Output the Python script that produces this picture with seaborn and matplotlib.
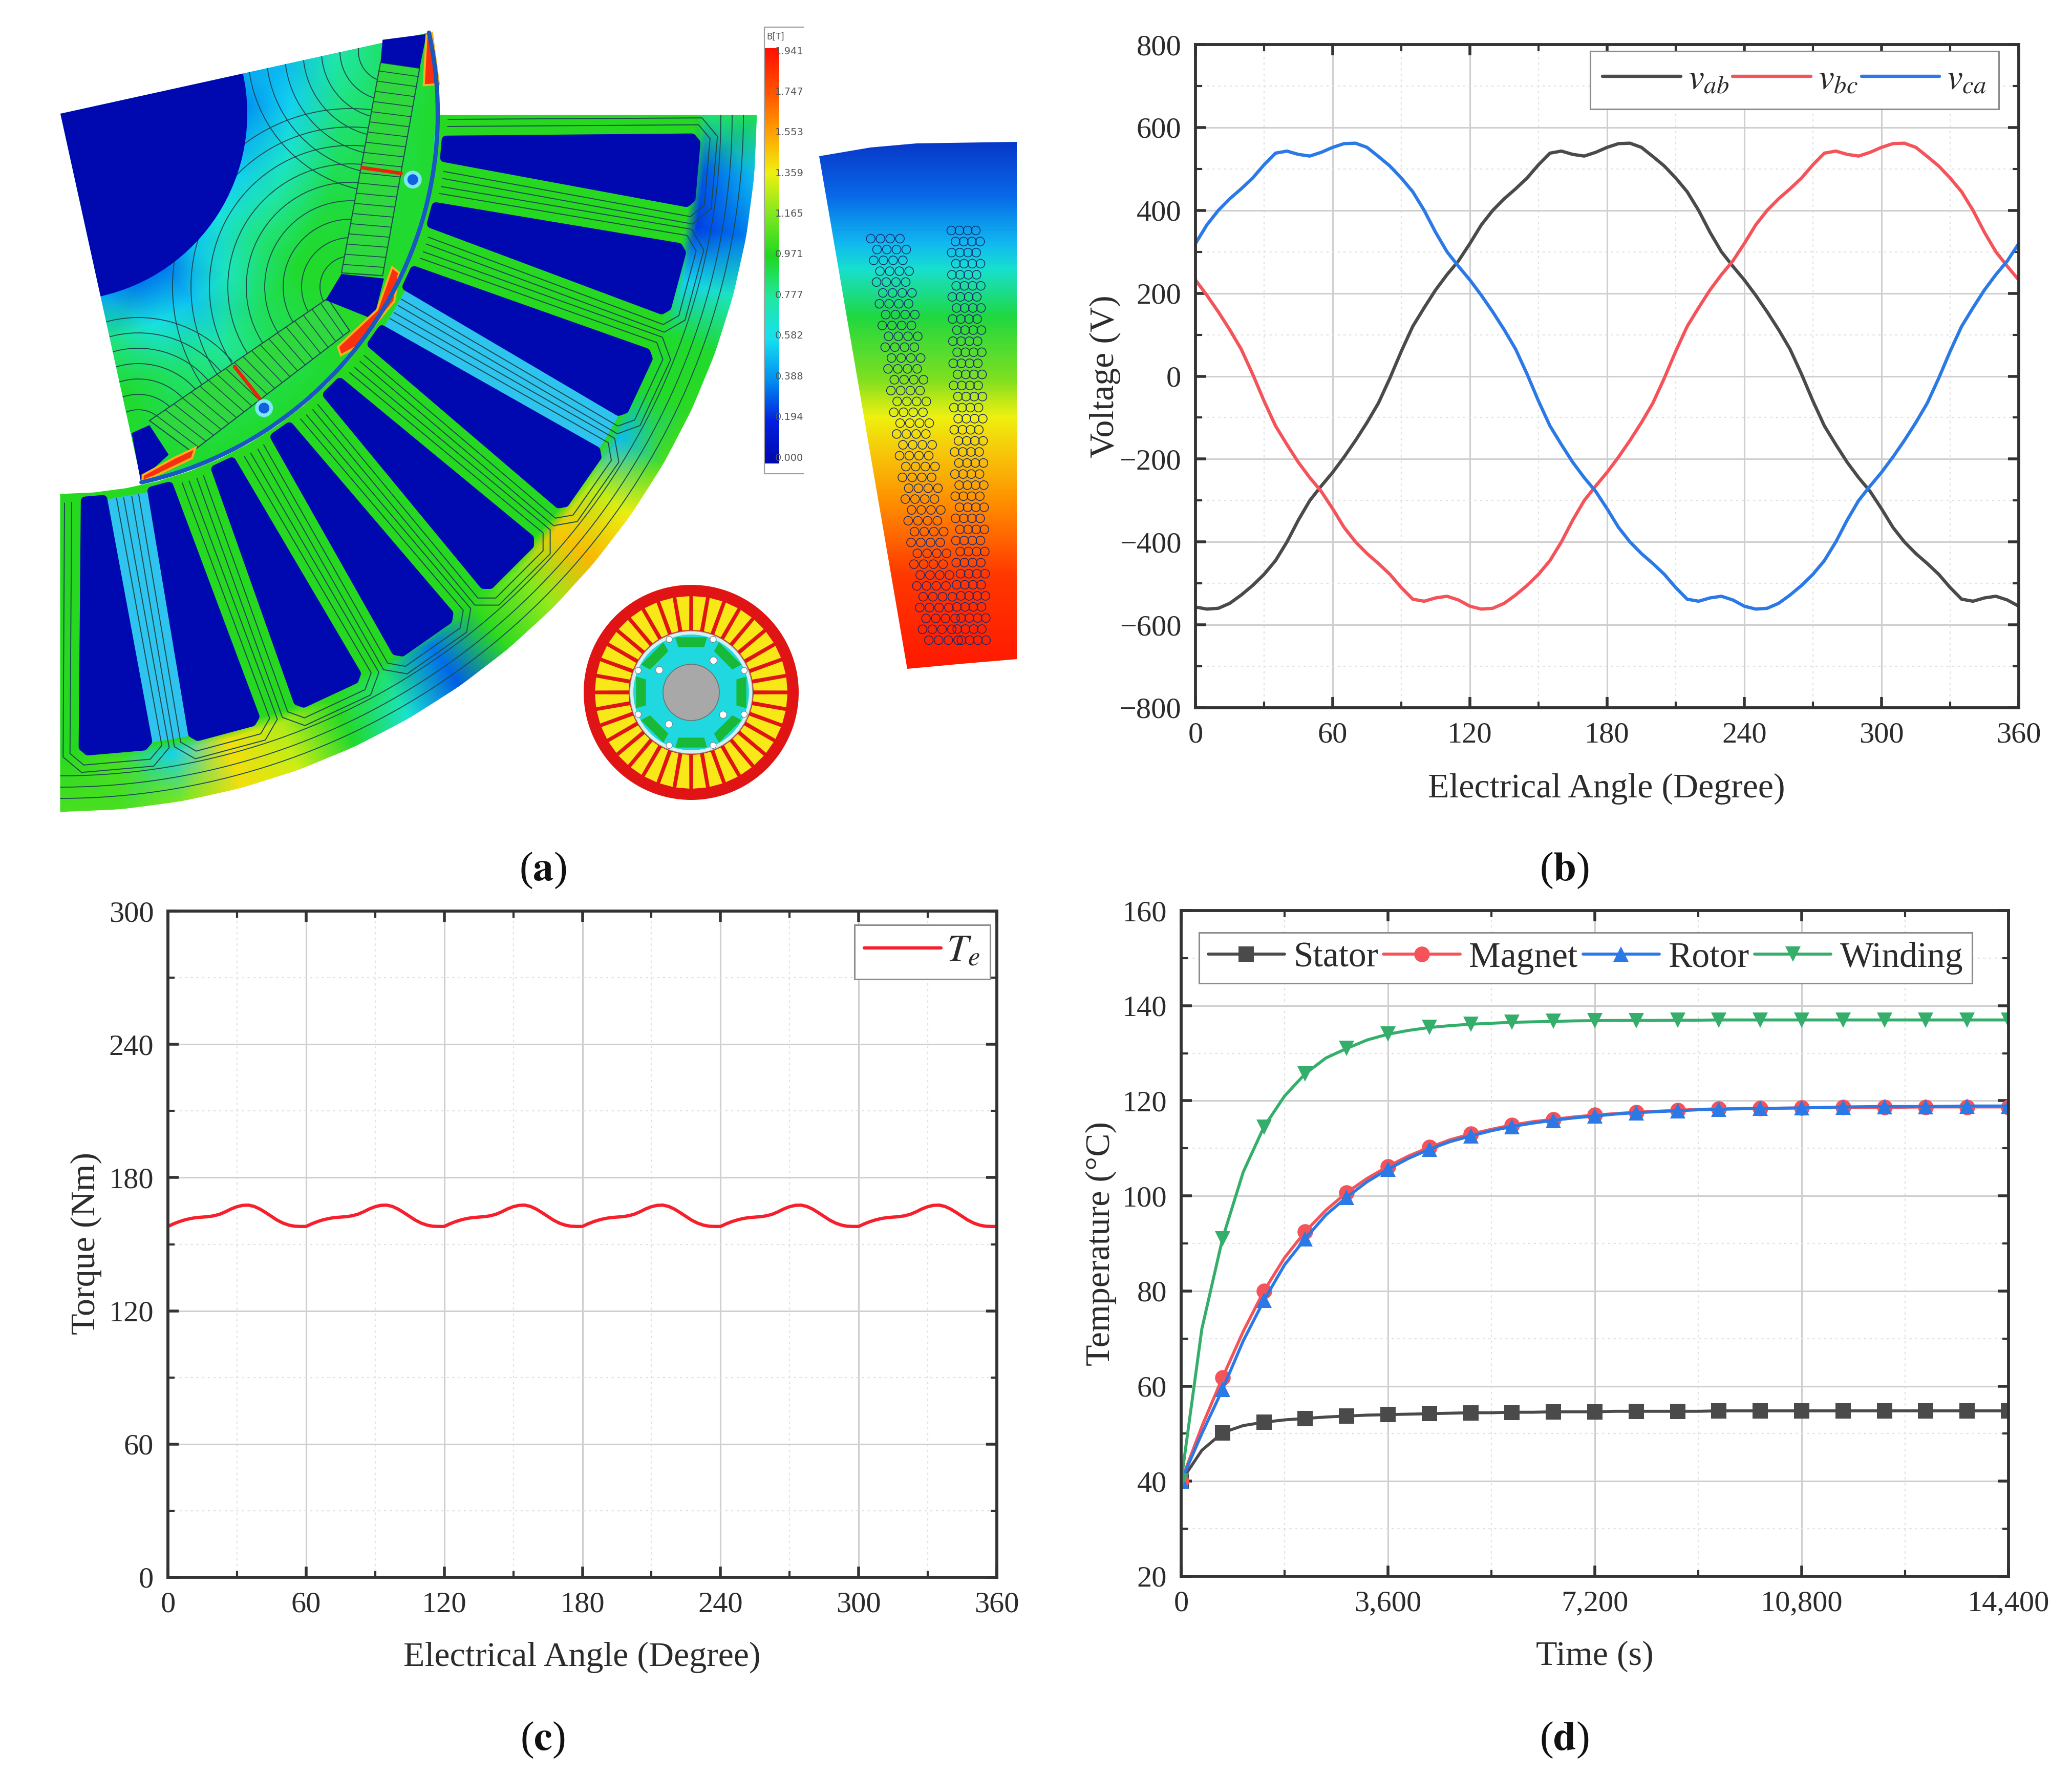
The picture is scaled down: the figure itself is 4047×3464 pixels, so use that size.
import numpy as np
import pandas as pd
import matplotlib
matplotlib.use('Agg')
import matplotlib.pyplot as plt
import seaborn as sns
from matplotlib.colors import LinearSegmentedColormap
from matplotlib.patches import Wedge, Polygon, Circle, Arc

W, H = 4048, 3464

# ---- panel b : line voltages, every 5 degrees
angle_deg = list(range(0, 365, 5))
v_ab = [-557, -562, -560, -548, -528, -505, -478, -445, -400, -347, -300, -265, -232, -195, -155, -112, -65, -5,
        60, 120, 165, 208, 245, 278, 320, 365, 400, 428, 452, 478, 510, 538, 543, 535, 531, 540,
        552, 561, 562, 552, 530, 507, 478, 445, 400, 347, 300, 265, 232, 195, 155, 112, 65, 5,
        -60, -120, -165, -208, -245, -278, -320, -365, -400, -428, -452, -478, -510, -538, -543, -535, -531, -540, -555]
v_bc = [232, 195, 155, 112, 65, 5, -60, -120, -165, -208, -245, -278, -320, -365, -400, -428, -452, -478,
        -510, -538, -543, -535, -531, -540, -555, -562, -560, -548, -528, -505, -478, -445, -400, -347, -300, -265,
        -232, -195, -155, -112, -65, -5, 60, 120, 165, 208, 245, 278, 320, 365, 400, 428, 452, 478,
        510, 538, 543, 535, 531, 540, 552, 561, 562, 552, 530, 507, 478, 445, 400, 347, 300, 265, 232]
v_ca = [320, 365, 400, 428, 452, 478, 510, 538, 543, 535, 531, 540, 552, 561, 562, 552, 530, 507,
        478, 445, 400, 347, 300, 265, 232, 195, 155, 112, 65, 5, -60, -120, -165, -208, -245, -278,
        -320, -365, -400, -428, -452, -478, -510, -538, -543, -535, -531, -540, -555, -562, -560, -548, -528, -505,
        -478, -445, -400, -347, -300, -265, -232, -195, -155, -112, -65, -5, 60, 120, 165, 208, 245, 278, 320]

# ---- panel c : torque, every 2.5 degrees
torque_angle = [i * 2.5 for i in range(145)]
torque = [158.0, 159.2, 160.2, 161.0, 161.6, 162.0, 162.2, 162.4, 162.8, 163.5, 164.6, 165.9, 166.9, 167.5, 167.6, 167.0, 165.8, 164.2, 162.5, 160.8, 159.5, 158.6, 158.1, 158.0,
          158.0, 159.2, 160.2, 161.0, 161.6, 162.0, 162.2, 162.4, 162.8, 163.5, 164.6, 165.9, 166.9, 167.5, 167.6, 167.0, 165.8, 164.2, 162.5, 160.8, 159.5, 158.6, 158.1, 158.0,
          158.0, 159.2, 160.2, 161.0, 161.6, 162.0, 162.2, 162.4, 162.8, 163.5, 164.6, 165.9, 166.9, 167.5, 167.6, 167.0, 165.8, 164.2, 162.5, 160.8, 159.5, 158.6, 158.1, 158.0,
          158.0, 159.2, 160.2, 161.0, 161.6, 162.0, 162.2, 162.4, 162.8, 163.5, 164.6, 165.9, 166.9, 167.5, 167.6, 167.0, 165.8, 164.2, 162.5, 160.8, 159.5, 158.6, 158.1, 158.0,
          158.0, 159.2, 160.2, 161.0, 161.6, 162.0, 162.2, 162.4, 162.8, 163.5, 164.6, 165.9, 166.9, 167.5, 167.6, 167.0, 165.8, 164.2, 162.5, 160.8, 159.5, 158.6, 158.1, 158.0,
          158.0, 159.2, 160.2, 161.0, 161.6, 162.0, 162.2, 162.4, 162.8, 163.5, 164.6, 165.9, 166.9, 167.5, 167.6, 167.0, 165.8, 164.2, 162.5, 160.8, 159.5, 158.6, 158.1, 158.0, 158.0]

# ---- panel d : temperatures, every 360 s (markers every 720 s)
time_s = list(range(0, 14760, 360))
t_stator = [40, 46.5, 50.2, 51.7, 52.4, 52.9, 53.2, 53.5, 53.7, 53.9, 54.0, 54.1, 54.2, 54.3, 54.4, 54.4, 54.5, 54.5,
            54.6, 54.6, 54.6, 54.7, 54.7, 54.7, 54.7, 54.7, 54.8, 54.8, 54.8, 54.8, 54.8, 54.8, 54.8, 54.8, 54.8, 54.8,
            54.8, 54.8, 54.8, 54.8, 54.8]
t_magnet = [40, 51.5, 61.8, 71.5, 80, 87, 92.5, 97, 100.7, 103.7, 106.2, 108.4, 110.2, 111.8, 113, 114, 114.9, 115.6,
            116.1, 116.6, 117, 117.3, 117.6, 117.8, 118, 118.2, 118.3, 118.35, 118.4, 118.45, 118.5, 118.55, 118.6,
            118.6, 118.6, 118.65, 118.7, 118.7, 118.7, 118.7, 118.7]
t_rotor = [40, 50, 59.3, 69.5, 78, 85.5, 91, 96, 99.7, 103, 105.6, 107.9, 109.8, 111.4, 112.6, 113.7, 114.6, 115.3,
           115.9, 116.4, 116.8, 117.2, 117.5, 117.7, 117.9, 118.1, 118.2, 118.3, 118.4, 118.45, 118.5, 118.6, 118.7,
           118.75, 118.8, 118.8, 118.8, 118.85, 118.9, 118.9, 118.9]
t_winding = [40, 72, 91, 105, 114.5, 121, 125.7, 129, 131, 132.8, 134, 134.8, 135.4, 135.8, 136.1, 136.3, 136.5, 136.6,
             136.7, 136.8, 136.85, 136.9, 136.9, 136.9, 136.95, 136.95, 137, 137, 137, 137, 137, 137, 137, 137, 137, 137,
             137, 137, 137, 137, 137]

# ---- panel a : colour scale and field values
scale_labels = ['1.941', '1.747', '1.553', '1.359', '1.165', '0.971', '0.777', '0.582', '0.388', '0.194', '0.000']
field_colors = ['#0008b0', '#0020e0', '#0090f0', '#18e0f0', '#20e8a0', '#20d820', '#80e820', '#f0f010', '#ffa000', '#ff5000', '#ff1000']
stator_theta = list(range(0, 95, 5))
yoke_inner = [0.85, 0.30, 0.25, 0.55, 0.95, 0.95, 0.50, 1.25, 1.45, 1.15, 1.00, 0.35, 0.85, 1.00, 1.25, 1.40, 0.55, 1.05, 1.00]
yoke_outer = [0.90, 0.50, 0.35, 0.70, 0.95, 1.00, 1.05, 1.35, 1.50, 1.20, 1.00, 0.30, 0.65, 0.95, 1.30, 1.40, 1.15, 1.05, 1.05]
rotor_theta = [-12.4, -2, 10, 21, 32.6, 44, 55, 66, 77.6]
rotor_radius = [365, 450, 550, 735]
rotor_field = [[0.45, 0.40, 0.48, 0.55, 0.62, 0.52, 0.35, 0.35, 0.45],
               [0.50, 0.55, 0.66, 0.76, 0.82, 0.70, 0.52, 0.62, 0.82],
               [0.75, 0.82, 0.88, 0.93, 0.95, 0.88, 0.78, 0.86, 0.95],
               [0.95, 0.95, 0.95, 0.95, 1.00, 0.95, 0.95, 0.95, 0.95]]

sns.set_theme(style='white')
plt.rcParams['font.family'] = ['Liberation Serif', 'DejaVu Serif']
plt.rcParams['mathtext.fontset'] = 'stix'

TXT = '#2b2b2b'
GRID = '#cfcfcf'
fig = plt.figure(figsize=(W / 100, H / 100), dpi=100, facecolor='white')


def px_axes(left, top, right, bottom):
    return fig.add_axes([left / W, 1 - bottom / H, (right - left) / W, (bottom - top) / H])


def style_axes(ax, box, xlim, ylim, xmajor, ymajor, xminor, yminor, xlabels, ylabel, xlabel, xlab_px, ylab_px):
    left, top, right, bottom = box
    ax.set_xlim(xlim)
    ax.set_ylim(ylim)
    ax.set_xticks(xmajor)
    ax.set_xticklabels(xlabels)
    ax.set_yticks(ymajor)
    ax.set_xticks(xminor, minor=True)
    ax.set_yticks(yminor, minor=True)
    ax.grid(True, which='major', color=GRID, lw=2.2, ls='-')
    ax.grid(True, which='minor', color='#e2e2e2', lw=1.6, ls=(0, (2, 3)))
    ax.set_axisbelow(True)
    ax.tick_params(which='major', direction='in', length=15, width=4, top=True, right=True, bottom=True, left=True,
                   labelsize=42, labelcolor=TXT, pad=20, color='#333333')
    ax.tick_params(which='minor', direction='in', length=9, width=3, top=True, right=True, bottom=True, left=True, color='#333333')
    for s in ax.spines.values():
        s.set_visible(True)
        s.set_linewidth(4.2)
        s.set_color('#333333')
    ax.set_xlabel(xlabel, fontsize=49, color=TXT, va='center')
    ax.set_ylabel(ylabel, fontsize=49, color=TXT, va='center')
    ax.xaxis.set_label_coords((xlab_px[0] - left) / (right - left), -(xlab_px[1] - bottom) / (bottom - top))
    ax.yaxis.set_label_coords((ylab_px[0] - left) / (right - left), (bottom - ylab_px[1]) / (bottom - top))


def px_legend(ax, box, legend_box, ncol, fontsize, **kw):
    left, top, right, bottom = box
    l, t, r, b = legend_box
    anchor = ((l - left) / (right - left), (bottom - b) / (bottom - top),
              (r - l) / (right - left), (b - t) / (bottom - top))
    leg = ax.legend(loc='center', bbox_to_anchor=anchor, ncol=ncol, fontsize=fontsize, frameon=True,
                    fancybox=False, framealpha=1, edgecolor='#8c8c8c', labelcolor=TXT, **kw)
    leg.get_frame().set_linewidth(2.2)
    return leg


# ---------- panel b
box_b = (2335, 87, 3943, 1382)
ax_b = px_axes(*box_b)
df_b = pd.DataFrame({'angle': angle_deg, 'vab': v_ab, 'vbc': v_bc, 'vca': v_ca})
sns.lineplot(data=df_b, x='angle', y='vab', ax=ax_b, color='#4a4a4a', lw=4.6, label=r'$v_{ab}$')
sns.lineplot(data=df_b, x='angle', y='vbc', ax=ax_b, color='#f4535a', lw=4.6, label=r'$v_{bc}$')
sns.lineplot(data=df_b, x='angle', y='vca', ax=ax_b, color='#2b79e6', lw=4.6, label=r'$v_{ca}$')
style_axes(ax_b, box_b, (0, 360), (-800, 800), range(0, 361, 60), range(-800, 801, 200),
           range(30, 360, 60), range(-700, 800, 200), [str(v) for v in range(0, 361, 60)],
           'Voltage (V)', 'Electrical Angle (Degree)', (3138, 1540), (2158, 735))
px_legend(ax_b, box_b, (3116, 103, 3894, 210), 3, 50, handlelength=2.2, handletextpad=0.2, columnspacing=0.1, borderpad=0.35)

# ---------- panel c
box_c = (328, 1779, 1947, 3080)
ax_c = px_axes(*box_c)
sns.lineplot(x=torque_angle, y=torque, ax=ax_c, color='#f81f2c', lw=4.6, label=r'$T_e$')
style_axes(ax_c, box_c, (0, 360), (0, 300), range(0, 361, 60), range(0, 301, 60),
           range(30, 360, 60), range(30, 300, 60), [str(v) for v in range(0, 361, 60)],
           'Torque (Nm)', 'Electrical Angle (Degree)', (1137, 3236), (168, 2428))
px_legend(ax_c, box_c, (1680, 1805, 1923, 1912), 1, 54, handlelength=2.0, handletextpad=0.15, borderpad=0.25)

# ---------- panel d
box_d = (2307, 1778, 3923, 3078)
ax_d = px_axes(*box_d)
for vals, col, mark, name in [(t_stator, '#4a4a4a', 's', 'Stator'), (t_magnet, '#f4535a', 'o', 'Magnet'),
                              (t_rotor, '#2b79e6', '^', 'Rotor'), (t_winding, '#35ae6b', 'v', 'Winding')]:
    sns.lineplot(x=time_s, y=vals, ax=ax_d, color=col, lw=4.2, marker=mark, markevery=2, markersize=22,
                 markeredgewidth=0, label=name)
style_axes(ax_d, box_d, (0, 14400), (20, 160), range(0, 14401, 3600), range(20, 161, 20),
           range(1800, 14400, 3600), range(30, 160, 20), ['0', '3,600', '7,200', '10,800', '14,400'],
           'Temperature (°C)', 'Time (s)', (3115, 3234), (2150, 2428))
px_legend(ax_d, box_d, (2346, 1824, 3848, 1917), 4, 50, handlelength=2.15, handletextpad=0.25, columnspacing=0.15, borderpad=0.25)

# ---------- panel a : drawn in picture pixels
ax_a = fig.add_axes([0, 0, 1, 1], zorder=-1)
ax_a.set_xlim(0, W)
ax_a.set_ylim(H, 0)
ax_a.axis('off')
field_cmap = LinearSegmentedColormap.from_list('field', field_colors)
NAVY = '#0008b0'
LINE = '#1c4a50'


def polar_xy(c, r, deg):
    t = np.radians(deg)
    return c[0] + r * np.cos(t), c[1] + r * np.sin(t)


def zoom_px(points):
    return [(x / 0.7467, y / 0.901) for x, y in points]


# stator
sc = (118, 225)
th, rr = np.meshgrid(stator_theta, [740, 1240, 1262, 1360])
tooth_b = [0.98] * len(stator_theta)
cc = np.array([tooth_b, tooth_b, yoke_inner, yoke_outer])
sx, sy = polar_xy(sc, rr, th)
ax_a.pcolormesh(sx, sy, cc, shading='gouraud', cmap=field_cmap, vmin=0, vmax=1.941, zorder=1)
# smooth the outer rim
fine = np.linspace(0, 90, 181)
rim_x, rim_y = polar_xy(sc, 1360, fine)
rim_in_x, rim_in_y = polar_xy(sc, 1362 / np.cos(np.radians(2.5)), fine)
ax_a.fill(np.r_[rim_x, rim_in_x[::-1]], np.r_[rim_y, rim_in_y[::-1]], color='white', zorder=1.5, lw=0)


def slot_outline(theta_c, e):
    # e : offset from the slot side in pixels
    u = np.array([np.cos(np.radians(theta_c)), np.sin(np.radians(theta_c))])
    v = np.array([-u[1], u[0]])
    s0, s1 = 755, 1250
    w0, w1 = 26 + e, 72 + e
    ch = 14 + e * 0.6
    pts = [(s0, -w0), (s1 + e - ch, -w1), (s1 + e, -w1 + ch), (s1 + e, w1 - ch), (s1 + e - ch, w1), (s0, w0)]
    return np.array([np.array(sc) + s * u + t * v for s, t in pts])


# two low-field teeth
for tc in [30, 80]:
    a = slot_outline(tc - 5, 0)
    b = slot_outline(tc + 5, 0)
    ax_a.add_patch(Polygon([a[5], a[4], b[1], b[0]], closed=True, fc='#2fc4ee', ec='none', zorder=1.8))

for tc in range(5, 90, 10):
    for e in [18, 32]:
        p = slot_outline(tc, e)
        ax_a.plot(p[:, 0], p[:, 1], color=LINE, lw=1.4, zorder=2, solid_joinstyle='round')
    ax_a.add_patch(Polygon(slot_outline(tc, -9), closed=True, fc=NAVY, ec=NAVY, lw=13, joinstyle='round', zorder=3))
for r in [1290, 1312, 1334]:
    ax_a.plot(*polar_xy(sc, r, fine), color=LINE, lw=1.3, zorder=2)

# rotor
rc = (118, 222)
th, rr = np.meshgrid(rotor_theta, rotor_radius)
rx, ry = polar_xy(rc, rr, th)
rotor_clip = Wedge(rc, 735, -12.4, 77.6, transform=ax_a.transData)
ax_a.add_patch(Wedge(rc, 735, -12.4, 77.6, fc='#20e0a0', ec='none', zorder=4))
mesh = ax_a.pcolormesh(rx, ry, np.array(rotor_field), shading='gouraud', cmap=field_cmap, vmin=0, vmax=1.941, zorder=4.1)
mesh.set_clip_path(rotor_clip)
ax_a.add_patch(Wedge(rc, 365, -12.4, 77.6, fc=NAVY, ec='none', zorder=4.6))

# flux lines, concentric around the magnet ends
for c, radii, a0, a1 in [((685, 560), range(60, 350, 36), 135, 280), ((270, 860), range(60, 270, 30), 185, 320),
                         ((760, 100), range(60, 300, 36), 100, 195)]:
    for r in radii:
        arc = Arc(c, 2 * r, 2 * r, theta1=a0, theta2=a1, color=LINE, lw=1.3, zorder=4.5)
        ax_a.add_patch(arc)
        arc.set_clip_path(rotor_clip)

magnets = [[(555, 110), (612, 120), (558, 485), (498, 480)], [(478, 525), (510, 582), (280, 795), (218, 740)]]
blue_ends = [[(558, 70), (622, 60), (612, 120), (555, 110)], [(498, 482), (560, 490), (545, 562), (475, 528)],
             [(218, 748), (246, 800), (205, 845), (192, 762)]]
for m in magnets:
    pts = np.array(zoom_px(m))
    ax_a.add_patch(Polygon(pts, closed=True, fc='#30d840', ec=LINE, lw=1.5, zorder=5))
    for f in np.linspace(0.04, 0.96, 20):
        a = pts[0] + f * (pts[3] - pts[0])
        b = pts[1] + f * (pts[2] - pts[1])
        ax_a.plot([a[0], b[0]], [a[1], b[1]], color=LINE, lw=1.2, zorder=5.1)
for m in blue_ends:
    ax_a.add_patch(Polygon(zoom_px(m), closed=True, fc=NAVY, ec='none', zorder=5.2))
hot = [[(622, 62), (630, 58), (640, 148), (618, 150)], [(572, 470), (582, 480), (575, 530), (520, 610), (497, 625), (493, 610), (550, 545)],
       [(208, 836), (255, 805), (285, 788), (280, 806), (225, 838), (208, 846)]]
for m in hot:
    ax_a.add_patch(Polygon(zoom_px(m), closed=True, fc='#f83010', ec='#f8b020', lw=3, zorder=5.3))
for m in [[(528, 295), (585, 305)], [(342, 645), (378, 700)]]:
    p = np.array(zoom_px(m))
    ax_a.plot(p[:, 0], p[:, 1], color='#f02010', lw=5, zorder=5.4)
for x, y in [(602, 316), (385, 718)]:
    p = zoom_px([(x, y)])[0]
    ax_a.add_patch(Circle(p, 14, fc='#1060e0', ec='#80e8f0', lw=5, zorder=5.4))
fine_r = np.linspace(-12.4, 77.6, 181)
ax_a.plot(*polar_xy(rc, 737, fine_r), color='#1858c0', lw=6, zorder=5.5)

# colour scale
grad = np.linspace(1, 0, 256).reshape(-1, 1)
ax_a.imshow(grad, extent=(1493, 1522, 905, 94), aspect='auto', cmap=field_cmap, zorder=2)
ax_a.plot([1570, 1493, 1493, 1570], [53, 53, 925, 925], color='#a0a0a0', lw=1.6, zorder=2)
ax_a.text(1497, 72, 'B[T]', fontsize=12, color='#555555', family=['DejaVu Sans'], va='center')
for lab, y in zip(scale_labels, np.linspace(100, 894, len(scale_labels))):
    ax_a.text(1514, y, lab, fontsize=14, color='#555555', family=['DejaVu Sans'], va='center', zorder=3)

# slot thermal sector
heat_cmap = LinearSegmentedColormap.from_list('heat', [(0, '#0838c8'), (0.1, '#0868e8'), (0.19, '#10b8f0'), (0.24, '#18e0d0'),
                                                       (0.33, '#20d840'), (0.45, '#80e020'), (0.52, '#f0f010'),
                                                       (0.68, '#ff9000'), (0.82, '#ff3800'), (1, '#ff1800')])
heat = ax_a.imshow(np.linspace(0, 1, 256).reshape(-1, 1), extent=(1590, 1990, 1310, 277), aspect='auto', cmap=heat_cmap, zorder=2)
heat_edge = Polygon([(1600, 305), (1700, 288), (1790, 280), (1986, 277), (1986, 1287), (1880, 1296), (1772, 1306)],
                    closed=True, transform=ax_a.transData)
heat.set_clip_path(heat_edge)
coil_x, coil_y = [], []
for top, bot, sp in [((1734, 466), (1838, 1250), 19), ((1886, 450), (1898, 1250), 16)]:
    n = 38
    for i in range(n):
        f = i / (n - 1)
        for j in range(-2, 2):
            coil_x.append(top[0] + f * (bot[0] - top[0]) + (j + 0.25 + 0.5 * (i % 2)) * sp)
            coil_y.append(top[1] + f * (bot[1] - top[1]))
ax_a.scatter(coil_x, coil_y, s=150, facecolors='none', edgecolors='#1a2a70', linewidths=1.1, zorder=3)

# small machine section
mc = (1350, 1352)
ax_a.add_patch(Circle(mc, 210, fc='#e01414', ec='none', zorder=2))
for i in range(36):
    a = i * 10 + 5
    p = [polar_xy(mc, 122, a - 3.2), polar_xy(mc, 188, a - 3.9), polar_xy(mc, 188, a + 3.9), polar_xy(mc, 122, a + 3.2)]
    ax_a.add_patch(Polygon(p, closed=True, fc='#f8e818', ec='none', zorder=2.1))
ax_a.add_patch(Circle(mc, 120, fc='#d8f0f0', ec='#909090', lw=1, zorder=2.2))
ax_a.add_patch(Circle(mc, 113, fc='#20d8e0', ec='none', zorder=2.3))
for i in range(8):
    a = i * 45
    p = [polar_xy(mc, 112, a - 16), polar_xy(mc, 112, a + 16), polar_xy(mc, 92, a + 16), polar_xy(mc, 92, a - 16)]
    ax_a.add_patch(Polygon(p, closed=True, fc='#18b838', ec='none', zorder=2.4))
    ax_a.add_patch(Circle(polar_xy(mc, 112, a + 22.5), 6, fc='white', ec='#808080', lw=0.8, zorder=2.5))
ax_a.add_patch(Circle(mc, 55, fc='#a8a8a8', ec='#707070', lw=1.2, zorder=2.6))
for a in [35, 125, 215, 305]:
    ax_a.add_patch(Circle(polar_xy(mc, 76, a), 7, fc='white', ec='#808080', lw=0.8, zorder=2.6))

ax_a.set_xlim(0, W)
ax_a.set_ylim(H, 0)

# panel letters
for letter, x, y in [('a', 1060, 1700), ('b', 3055, 1700), ('c', 1060, 3398), ('d', 3055, 3398)]:
    fig.text(x / W, 1 - y / H, r'(' + r'$\mathbf{' + letter + r'}$' + r')', fontsize=58, color='#111111', ha='center', va='center')

fig.savefig('out.png', dpi=100)
